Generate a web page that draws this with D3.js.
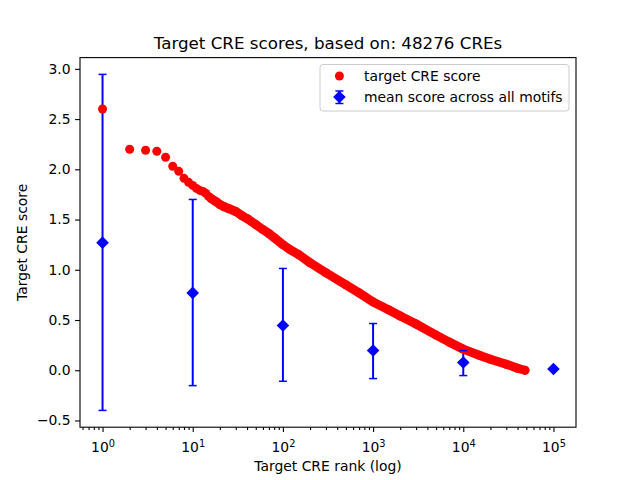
<!DOCTYPE html>
<html>
<head>
<meta charset="utf-8">
<script src="https://cdn.jsdelivr.net/npm/d3@7"></script>
<style>
body { margin: 0; background: #fff; }
text { font-family: "DejaVu Sans", sans-serif; fill: #000; }
.tick text { font-size: 13.9px; }
.domain { display: none; }
.tick line { stroke: #000; stroke-width: 1.1; }
</style>
</head>
<body>
<div id="chart"></div>
<script>
// red series: target CRE score by rank
var ranks  = [1, 2, 3, 4, 5, 6, 7, 8, 9, 10, 11, 12, 13, 14, 15, 16, 18, 20, 22, 25, 30, 35, 40, 50, 60, 70, 80,
              100, 120, 150, 200, 300, 500, 700, 1000, 1500, 2000, 3000, 5000, 7000, 10000, 15000, 20000, 30000, 40000, 48276];
var scores = [2.60, 2.20, 2.19, 2.18, 2.12, 2.03, 1.98, 1.91, 1.87, 1.84, 1.81, 1.79, 1.78, 1.76, 1.73, 1.71, 1.68, 1.65, 1.63, 1.61, 1.58, 1.54, 1.51, 1.45, 1.40, 1.36, 1.32,
              1.25, 1.20, 1.15, 1.07, 0.97, 0.85, 0.77, 0.68, 0.60, 0.54, 0.46, 0.35, 0.28, 0.21, 0.15, 0.11, 0.06, 0.02, 0.00];

// blue series: mean score across all motifs with error bars
var meanRanks = [1, 10, 100, 1000, 10000, 100000];
var meanScores = [1.27, 0.77, 0.445, 0.196, 0.077, 0.013];
var errLow  = [-0.40, -0.153, -0.11, -0.083, -0.053, 0.013];
var errHigh = [2.945, 1.70, 1.013, 0.465, 0.196, 0.013];

var xTicks = [1, 10, 100, 1000, 10000, 100000];
var yTicks = [-0.5, 0.0, 0.5, 1.0, 1.5, 2.0, 2.5, 3.0];

function draw() {
  var width = 640;
  var height = 480;
  var pLeft = 80, pRight = 576, pTop = 57.6, pBottom = 427.2;

  var svg = d3.select("#chart")
    .append("svg")
    .attr("width", width)
    .attr("height", height);

  var x = d3.scaleLog()
    .domain([Math.pow(10, -0.25), Math.pow(10, 5.25)])
    .range([pLeft, pRight]);

  var y = d3.scaleLinear()
    .domain([-0.567, 3.112])
    .range([pBottom, pTop]);

  // minor ticks on log axis
  var minorTicks = [];
  for (var e = -1; e <= 5; e++) {
    for (var m = 2; m <= 9; m++) {
      var v = m * Math.pow(10, e);
      if (v >= x.domain()[0] && v <= x.domain()[1]) minorTicks.push(v);
    }
  }

  svg.append("g")
    .attr("transform", "translate(0," + pBottom + ")")
    .call(d3.axisBottom(x).tickValues(minorTicks).tickSize(2.8).tickFormat(""))
    .selectAll(".tick line").attr("stroke-width", 0.8);

  var xAxis = svg.append("g")
    .attr("transform", "translate(0," + pBottom + ")")
    .call(d3.axisBottom(x).tickValues(xTicks).tickSize(4.9).tickPadding(5));

  xAxis.selectAll(".tick text")
    .text("")
    .attr("dy", "1.05em")
    .each(function(d) {
      var t = d3.select(this);
      t.append("tspan").text("10");
      t.append("tspan")
        .attr("dy", "-0.45em")
        .style("font-size", "9.8px")
        .text(Math.round(Math.log10(d)));
    });

  svg.append("g")
    .attr("transform", "translate(" + pLeft + ",0)")
    .call(d3.axisLeft(y).tickValues(yTicks).tickSize(4.9).tickPadding(4.5).tickFormat(d3.format(".1f")));

  // error bar lines (drawn under red)
  svg.append("g").selectAll("line")
    .data(meanRanks)
    .enter()
    .append("line")
    .attr("x1", function(d) { return x(d); })
    .attr("x2", function(d) { return x(d); })
    .attr("y1", function(d, i) { return y(errLow[i]); })
    .attr("y2", function(d, i) { return y(errHigh[i]); })
    .attr("stroke", "#0000ff")
    .attr("stroke-width", 2);

  // red band + points
  var pts = ranks.map(function(r, i) { return [r, scores[i]]; });
  var line = d3.line()
    .x(function(d) { return x(d[0]); })
    .y(function(d) { return y(d[1]); });

  svg.append("path")
    .datum(pts.filter(function(d) { return d[0] >= 16; }))
    .attr("d", line)
    .attr("fill", "none")
    .attr("stroke", "#ff0000")
    .attr("stroke-width", 9)
    .attr("stroke-linecap", "round")
    .attr("stroke-linejoin", "round");

  svg.append("g").selectAll("circle")
    .data(pts)
    .enter()
    .append("circle")
    .attr("cx", function(d) { return x(d[0]); })
    .attr("cy", function(d) { return y(d[1]); })
    .attr("r", 4.5)
    .attr("fill", "#ff0000");

  // caps
  var caps = svg.append("g");
  meanRanks.forEach(function(r, i) {
    if (errHigh[i] - errLow[i] < 0.001) return;
    [errLow[i], errHigh[i]].forEach(function(v) {
      caps.append("line")
        .attr("x1", x(r) - 4)
        .attr("x2", x(r) + 4)
        .attr("y1", y(v))
        .attr("y2", y(v))
        .attr("stroke", "#0000ff")
        .attr("stroke-width", 1.5);
    });
  });

  // diamonds
  var diamond = "M0,-6.3L6.3,0L0,6.3L-6.3,0Z";
  svg.append("g").selectAll("path")
    .data(meanRanks)
    .enter()
    .append("path")
    .attr("d", diamond)
    .attr("transform", function(d, i) { return "translate(" + x(d) + "," + y(meanScores[i]) + ")"; })
    .attr("fill", "#0000ff");

  // axes frame
  svg.append("rect")
    .attr("x", pLeft)
    .attr("y", pTop)
    .attr("width", pRight - pLeft)
    .attr("height", pBottom - pTop)
    .attr("fill", "none")
    .attr("stroke", "#000")
    .attr("stroke-width", 1.1);

  // title and labels
  svg.append("text")
    .attr("x", (pLeft + pRight) / 2)
    .attr("y", 49)
    .attr("text-anchor", "middle")
    .style("font-size", "16.7px")
    .text("Target CRE scores, based on: 48276 CREs");

  svg.append("text")
    .attr("x", (pLeft + pRight) / 2)
    .attr("y", 471)
    .attr("text-anchor", "middle")
    .style("font-size", "13.9px")
    .text("Target CRE rank (log)");

  svg.append("text")
    .attr("transform", "translate(27," + ((pTop + pBottom) / 2) + ") rotate(-90)")
    .attr("text-anchor", "middle")
    .style("font-size", "13.9px")
    .text("Target CRE score");

  // legend
  var legend = svg.append("g").attr("class", "legend");
  legend.append("rect")
    .attr("x", 320)
    .attr("y", 64.5)
    .attr("width", 249)
    .attr("height", 46.5)
    .attr("rx", 3)
    .attr("fill", "#fff")
    .attr("fill-opacity", 0.8)
    .attr("stroke", "#cccccc")
    .attr("stroke-width", 1);

  legend.append("circle")
    .attr("cx", 339.4)
    .attr("cy", 76)
    .attr("r", 4.5)
    .attr("fill", "#ff0000");
  legend.append("text")
    .attr("x", 364)
    .attr("y", 81)
    .style("font-size", "13.9px")
    .text("target CRE score");

  legend.append("line")
    .attr("x1", 339.4).attr("x2", 339.4)
    .attr("y1", 91).attr("y2", 103.5)
    .attr("stroke", "#0000ff").attr("stroke-width", 2);
  [91, 103.5].forEach(function(v) {
    legend.append("line")
      .attr("x1", 335.4).attr("x2", 343.4)
      .attr("y1", v).attr("y2", v)
      .attr("stroke", "#0000ff").attr("stroke-width", 1.5);
  });
  legend.append("path")
    .attr("d", diamond)
    .attr("transform", "translate(339.4,97)")
    .attr("fill", "#0000ff");
  legend.append("text")
    .attr("x", 364)
    .attr("y", 102)
    .style("font-size", "13.9px")
    .text("mean score across all motifs");
}

draw();
</script>
</body>
</html>
